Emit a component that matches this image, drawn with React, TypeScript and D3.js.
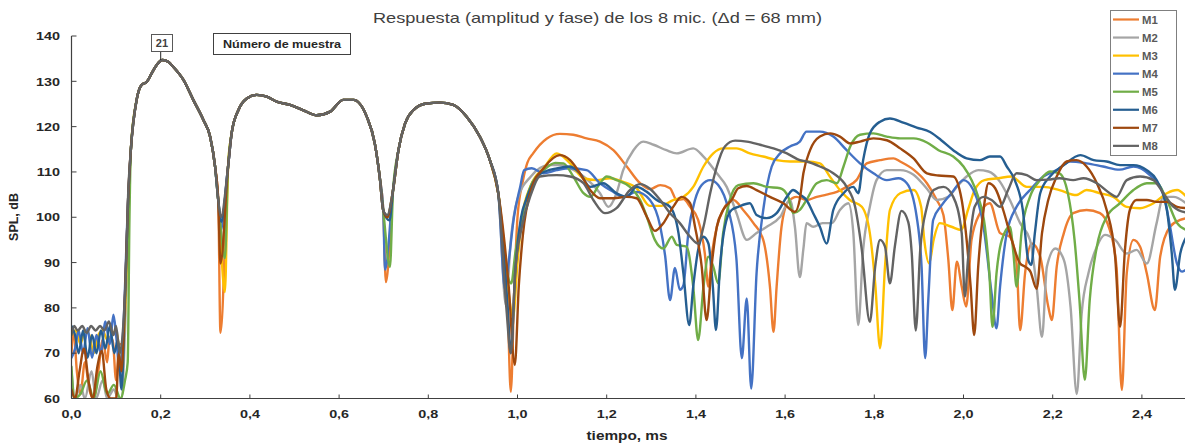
import React from 'react';
import * as d3 from 'd3';

type P = [number, number];

const seriesNames = ['M1', 'M2', 'M3', 'M4', 'M5', 'M6', 'M7', 'M8'];
const seriesColors = ['#ED7D31', '#A5A5A5', '#FFC000', '#4472C4', '#70AD47', '#255E91', '#9E480E', '#636363'];
const xTicks = [0, 0.2, 0.4, 0.6, 0.8, 1.0, 1.2, 1.4, 1.6, 1.8, 2.0, 2.2, 2.4];
const xTickLabels = ['0,0', '0,2', '0,4', '0,6', '0,8', '1,0', '1,2', '1,4', '1,6', '1,8', '2,0', '2,2', '2,4'];
const yTicks = [60, 70, 80, 90, 100, 110, 120, 130, 140];

// shared main lobes (all microphones nearly coincide)
const lobe1: P[] = [[0.133, 114.8], [0.146, 125.9], [0.157, 129.2], [0.169, 129.9], [0.18, 131.8], [0.191, 133.6], [0.204, 134.7], [0.217, 134.3], [0.228, 133.2], [0.251, 130.3], [0.273, 125.9], [0.296, 121.4], [0.311, 117.7], [0.322, 111.1], [0.329, 103.8]];
const lobe2: P[] = [[0.351, 111.1], [0.359, 118.5], [0.374, 123.6], [0.393, 126.2], [0.415, 127], [0.438, 126.6], [0.46, 125.5], [0.49, 124.8], [0.52, 123.6], [0.55, 122.5], [0.58, 123.3], [0.609, 125.9], [0.632, 125.9], [0.662, 122.2], [0.68, 116.3], [0.691, 108.9], [0.699, 101.5]];
const lobe3: P[] = [[0.721, 106], [0.733, 114.8], [0.748, 120.7], [0.766, 123.6], [0.796, 125.1], [0.826, 125.3], [0.856, 124.8], [0.886, 122.2], [0.916, 117.7], [0.938, 112.6], [0.957, 105.2]];

// per-microphone bottoms of the first two notches (M1..M8)
const dip1Points: P[] = [[0.334, 74.5], [0.335, 98], [0.344, 83.5], [0.334, 97], [0.344, 91], [0.336, 99], [0.334, 89.8], [0.335, 100]];
const dip2Points: P[] = [[0.705, 85.7], [0.708, 100], [0.708, 100], [0.703, 88.4], [0.714, 89], [0.713, 99.3], [0.708, 100], [0.708, 100.5]];

// pre-arrival noise + start of the rise
const m1Head: P[] = [[0, 70], [0.005, 75], [0.012, 66], [0.02, 61], [0.03, 68], [0.04, 62], [0.05, 60], [0.06, 66], [0.07, 73], [0.08, 68], [0.085, 73], [0.092, 73], [0.1, 64], [0.108, 72], [0.115, 72], [0.12, 82], [0.127, 104]];
const m2Head: P[] = [[0, 66], [0.008, 60], [0.02, 63], [0.03, 60], [0.045, 66], [0.055, 60], [0.07, 64], [0.08, 60], [0.095, 62], [0.105, 60], [0.112, 60], [0.12, 75], [0.127, 100]];
const m3Head: P[] = [[0, 74], [0.01, 75], [0.02, 72], [0.03, 75], [0.04, 74], [0.05, 70], [0.06, 74], [0.07, 75], [0.08, 73], [0.09, 74], [0.1, 75], [0.11, 70], [0.118, 75], [0.124, 90], [0.128, 104]];
const m4Head: P[] = [[0, 69], [0.008, 71], [0.016, 75], [0.026, 70], [0.036, 75.5], [0.046, 69], [0.056, 74], [0.066, 70], [0.076, 77], [0.086, 72], [0.094, 78.5], [0.1, 74], [0.108, 66], [0.116, 75], [0.127, 104]];
const m5Head: P[] = [[0, 67], [0.006, 60], [0.02, 61], [0.035, 64], [0.05, 60], [0.065, 66], [0.08, 61], [0.095, 63], [0.11, 60], [0.12, 64], [0.126, 68], [0.13, 100]];
const m6Head: P[] = [[0, 76], [0.008, 74], [0.016, 70], [0.026, 75], [0.036, 69], [0.046, 74], [0.056, 70], [0.066, 75], [0.076, 71], [0.086, 76], [0.096, 70], [0.104, 73], [0.112, 62], [0.12, 82], [0.127, 104]];
const m7Head: P[] = [[0, 62], [0.008, 60], [0.018, 66], [0.028, 71], [0.038, 64], [0.048, 60], [0.058, 67], [0.068, 70.5], [0.078, 62], [0.088, 60], [0.1, 60], [0.106, 70], [0.112, 66], [0.12, 83], [0.127, 104]];
const m8Head: P[] = [[0, 74], [0.006, 76], [0.014, 75], [0.024, 76], [0.034, 74.5], [0.044, 76], [0.054, 75], [0.064, 76], [0.074, 75], [0.084, 77], [0.094, 74], [0.1, 76], [0.108, 70], [0.116, 76], [0.122, 88], [0.127, 105]];

// late part (third notch and reflections)
const m1Tail: P[] = [[0.978, 80], [0.985, 61.5], [0.993, 85], [1.0, 100], [1.012, 108], [1.022, 112], [1.035, 114.1], [1.066, 117.4], [1.095, 118.4], [1.125, 118.2], [1.155, 117.4], [1.185, 116.7], [1.215, 114.8], [1.245, 111.2], [1.275, 107.5], [1.297, 106.2], [1.32, 107.1], [1.342, 106.4], [1.357, 103.8], [1.372, 104], [1.387, 102.3], [1.405, 99.4], [1.42, 92], [1.428, 84.7], [1.436, 92], [1.447, 97.9], [1.461, 101.6], [1.484, 103.8], [1.506, 101.6], [1.529, 98.7], [1.551, 95], [1.566, 84.7], [1.574, 74.7], [1.581, 84.7], [1.592, 97.9], [1.607, 103.4], [1.626, 104.5], [1.648, 103.8], [1.671, 104.5], [1.693, 105], [1.716, 105.6], [1.738, 106.7], [1.76, 108.2], [1.783, 111.9], [1.813, 112.6], [1.843, 113], [1.858, 112.3], [1.888, 110.5], [1.918, 107.5], [1.94, 103.8], [1.955, 100.5], [1.966, 90.6], [1.975, 79.5], [1.985, 90.2], [1.996, 84.7], [2.006, 80.3], [2.018, 95], [2.037, 100.9], [2.059, 103.1], [2.082, 96.5], [2.104, 95.7], [2.119, 89.8], [2.127, 75.1], [2.138, 87.6], [2.153, 94.2], [2.172, 91.3], [2.19, 80.3], [2.198, 77.3], [2.209, 89.1], [2.225, 96.5], [2.246, 100.9], [2.276, 101.6], [2.306, 100.9], [2.328, 97.2], [2.343, 89.1], [2.355, 61.9], [2.366, 87.6], [2.381, 95], [2.396, 93.5], [2.411, 87.6], [2.429, 79.5], [2.441, 91.3], [2.463, 97.9], [2.486, 99.4], [2.5, 99.8]];
const m2Tail: P[] = [[0.974, 80.6], [0.985, 95], [1.0, 104], [1.03, 109], [1.07, 111.5], [1.1, 111.5], [1.125, 110.5], [1.148, 109], [1.185, 105.3], [1.204, 102.3], [1.222, 105.3], [1.237, 110.4], [1.26, 114.8], [1.282, 116.7], [1.305, 116], [1.334, 114.8], [1.357, 114.1], [1.394, 115.2], [1.417, 113.4], [1.447, 109.7], [1.469, 106.7], [1.491, 100.9], [1.514, 95], [1.536, 96.5], [1.559, 97.9], [1.589, 100.1], [1.611, 103.8], [1.622, 97.9], [1.633, 86.8], [1.641, 93], [1.648, 98.7], [1.663, 97.9], [1.684, 98.7], [1.705, 98.7], [1.723, 101.6], [1.742, 103.1], [1.753, 96.5], [1.764, 76.2], [1.775, 92.8], [1.79, 102.3], [1.805, 108.2], [1.828, 110.4], [1.858, 110.4], [1.888, 109.4], [1.918, 106.3], [1.94, 103.8], [1.966, 104.5], [1.985, 106.7], [2.007, 109], [2.033, 110.4], [2.056, 110.1], [2.082, 107.8], [2.104, 103.8], [2.127, 98.7], [2.149, 95], [2.164, 84.7], [2.176, 73.6], [2.187, 89.1], [2.206, 93.1], [2.225, 90.6], [2.24, 80.3], [2.254, 61], [2.265, 78.8], [2.28, 87.6], [2.299, 93.5], [2.317, 96.1], [2.34, 95], [2.366, 92], [2.388, 92.8], [2.411, 89.8], [2.433, 98.7], [2.448, 104.5], [2.471, 104.5], [2.5, 103]];
const m3Tail: P[] = [[0.978, 85], [0.99, 78], [1.0, 90], [1.01, 100], [1.03, 107], [1.06, 111], [1.088, 114.1], [1.118, 111.9], [1.148, 108.6], [1.178, 108.2], [1.207, 108.6], [1.237, 107.8], [1.267, 106.4], [1.297, 102.5], [1.32, 102.5], [1.349, 103.8], [1.372, 104.5], [1.394, 106.7], [1.417, 111.2], [1.439, 114.1], [1.461, 115.2], [1.491, 115.2], [1.521, 114.1], [1.551, 113.4], [1.581, 112.6], [1.611, 112.3], [1.648, 112.3], [1.678, 111.9], [1.701, 108.9], [1.723, 106], [1.745, 103.8], [1.772, 102.3], [1.79, 96.5], [1.802, 85.4], [1.813, 71.1], [1.824, 89.1], [1.835, 101.6], [1.858, 105.3], [1.888, 106], [1.905, 102.3], [1.912, 95], [1.923, 89.8], [1.933, 95], [1.947, 98.7], [1.973, 97.9], [1.995, 97.2], [2.01, 101.6], [2.025, 106], [2.047, 108.2], [2.078, 108.6], [2.107, 109], [2.142, 106.7], [2.179, 106.7], [2.215, 106], [2.253, 104.9], [2.276, 106], [2.306, 105.3], [2.336, 104.5], [2.366, 102.3], [2.396, 102], [2.426, 103.1], [2.456, 105.3], [2.479, 106], [2.5, 104.5]];
const m4Tail: P[] = [[0.972, 84], [0.98, 90], [0.992, 100], [1.006, 106.7], [1.015, 110.4], [1.032, 110.8], [1.058, 109.7], [1.088, 110.4], [1.118, 110.8], [1.155, 110.4], [1.185, 107.5], [1.215, 105.6], [1.237, 104.5], [1.267, 105.6], [1.297, 103.8], [1.32, 98], [1.331, 91.5], [1.342, 81.7], [1.353, 88.8], [1.364, 84], [1.372, 85], [1.383, 96.5], [1.398, 103.8], [1.413, 107.1], [1.432, 108.2], [1.45, 107.1], [1.473, 101.6], [1.491, 90.6], [1.503, 68.9], [1.514, 82.1], [1.524, 62.2], [1.536, 87.6], [1.551, 101.6], [1.57, 111.2], [1.589, 114.1], [1.611, 115.6], [1.633, 116.7], [1.648, 118.9], [1.678, 118.9], [1.708, 117.8], [1.738, 114.8], [1.768, 111.9], [1.798, 109.7], [1.828, 108.2], [1.854, 108.6], [1.873, 107.5], [1.895, 100.1], [1.906, 89.1], [1.914, 68.9], [1.921, 81.7], [1.932, 99.4], [1.95, 102.5], [1.973, 105.3], [2.0, 108.2], [2.022, 106], [2.045, 97.9], [2.063, 83.2], [2.074, 75.5], [2.082, 84.7], [2.097, 96.5], [2.119, 102.3], [2.149, 106], [2.179, 109], [2.209, 110.4], [2.239, 112.3], [2.276, 111.9], [2.313, 111.2], [2.35, 110.5], [2.381, 111.2], [2.418, 109.3], [2.448, 105.3], [2.463, 98], [2.478, 90], [2.49, 88], [2.5, 88.5]];
const m5Tail: P[] = [[0.976, 88], [0.986, 85.4], [0.995, 92], [1.01, 100], [1.03, 107], [1.06, 110.5], [1.085, 112], [1.103, 111.9], [1.125, 109], [1.148, 105.3], [1.163, 104.5], [1.185, 107.5], [1.2, 109], [1.222, 108.2], [1.252, 106.7], [1.275, 103.8], [1.29, 100.1], [1.308, 95], [1.327, 93.1], [1.346, 95.7], [1.357, 93.9], [1.379, 93.5], [1.394, 84.7], [1.405, 72.9], [1.417, 84.7], [1.428, 91.3], [1.439, 89.1], [1.45, 85.4], [1.461, 96.5], [1.476, 103.8], [1.495, 107.1], [1.529, 107.5], [1.559, 106.7], [1.589, 106.4], [1.607, 104.5], [1.618, 100.9], [1.633, 101.6], [1.648, 103.8], [1.671, 107.5], [1.693, 108.2], [1.716, 107.5], [1.731, 111.2], [1.746, 115.6], [1.768, 118.2], [1.798, 118.5], [1.828, 117.8], [1.858, 117.4], [1.888, 117.4], [1.918, 116.5], [1.944, 114.8], [1.977, 113.4], [2.0, 111.2], [2.018, 108.2], [2.033, 104.5], [2.048, 97.9], [2.058, 87.6], [2.065, 75.8], [2.074, 87.6], [2.086, 95], [2.104, 97.9], [2.112, 92], [2.119, 84.7], [2.13, 96.5], [2.149, 104.5], [2.172, 108.2], [2.194, 110.1], [2.215, 109.7], [2.234, 105.3], [2.249, 95], [2.26, 81.7], [2.272, 64.1], [2.283, 81.7], [2.299, 93.5], [2.321, 100.1], [2.351, 103.1], [2.381, 106], [2.411, 107.5], [2.433, 107.5], [2.456, 103.8], [2.479, 98.7], [2.5, 97.2]];
const m6Tail: P[] = [[0.978, 80], [0.985, 70], [0.995, 88], [1.008, 100], [1.02, 104], [1.05, 109.5], [1.088, 110.8], [1.118, 111.2], [1.14, 109.7], [1.163, 106.7], [1.192, 107.5], [1.222, 105.3], [1.245, 104.5], [1.267, 106.7], [1.29, 105.6], [1.312, 103.8], [1.342, 102.3], [1.361, 96.5], [1.372, 87.6], [1.385, 76.2], [1.394, 84.7], [1.405, 92.8], [1.417, 95.7], [1.428, 94.2], [1.438, 84.7], [1.445, 75.1], [1.454, 89.1], [1.465, 97.9], [1.48, 101.6], [1.495, 102.3], [1.521, 103.1], [1.536, 100.5], [1.559, 99.8], [1.581, 100.9], [1.604, 104.5], [1.618, 106], [1.633, 105], [1.648, 103.8], [1.663, 100.9], [1.678, 97.9], [1.693, 94.2], [1.708, 101.6], [1.731, 105.3], [1.753, 106.7], [1.764, 105.3], [1.775, 112.6], [1.79, 118.5], [1.813, 121.1], [1.835, 121.8], [1.865, 120.9], [1.895, 119.8], [1.925, 118.8], [1.95, 117], [1.977, 114.8], [2.007, 113], [2.037, 112.6], [2.059, 113.4], [2.082, 113.4], [2.097, 111.2], [2.115, 108.2], [2.133, 101.6], [2.145, 90.6], [2.152, 89.5], [2.16, 96.5], [2.172, 105.3], [2.194, 109], [2.225, 111.5], [2.262, 113.7], [2.292, 112.6], [2.321, 112.3], [2.351, 111.5], [2.381, 111.5], [2.411, 110.4], [2.433, 108.2], [2.456, 101.6], [2.467, 92], [2.474, 84], [2.486, 92], [2.5, 95.7]];
const m7Tail: P[] = [[0.98, 85], [0.994, 67.4], [1.003, 85], [1.012, 96], [1.03, 106], [1.06, 111], [1.095, 113.7], [1.118, 112.6], [1.14, 109.7], [1.163, 106], [1.185, 104.2], [1.215, 104.2], [1.245, 104.5], [1.267, 104.2], [1.29, 100.1], [1.308, 97], [1.327, 98.7], [1.349, 102.3], [1.368, 104.5], [1.387, 103.1], [1.398, 97.9], [1.413, 89.1], [1.424, 77.3], [1.435, 89.1], [1.447, 97.9], [1.461, 101.6], [1.48, 103.8], [1.495, 106.4], [1.514, 106.9], [1.536, 106], [1.566, 104.5], [1.596, 103.1], [1.622, 101.2], [1.633, 104], [1.641, 109.7], [1.656, 114.8], [1.678, 117.8], [1.701, 118.5], [1.723, 117.8], [1.746, 116.3], [1.768, 116.7], [1.798, 117.4], [1.828, 117], [1.858, 115.2], [1.888, 113], [1.918, 109.7], [1.944, 109.2], [1.977, 109], [1.996, 103.8], [2.007, 95], [2.016, 84.7], [2.024, 74], [2.033, 89.1], [2.045, 101.6], [2.056, 107.5], [2.071, 106.4], [2.089, 101.6], [2.108, 95], [2.127, 89.8], [2.138, 89.1], [2.15, 88], [2.164, 84.2], [2.176, 96.5], [2.19, 103.8], [2.209, 109], [2.231, 112.3], [2.253, 112.6], [2.276, 111.2], [2.299, 107.5], [2.321, 101.6], [2.34, 91.3], [2.351, 75.8], [2.362, 92.8], [2.373, 101.6], [2.388, 103.8], [2.411, 103.8], [2.433, 103.4], [2.456, 103.4], [2.479, 102.3], [2.5, 102]];
const m8Tail: P[] = [[0.975, 80], [0.985, 70], [0.995, 88], [1.01, 98], [1.03, 105], [1.05, 109], [1.088, 109.3], [1.118, 109], [1.148, 107.5], [1.17, 103.8], [1.196, 100.9], [1.222, 102], [1.252, 106], [1.275, 107.3], [1.297, 106.3], [1.32, 103.8], [1.342, 100.9], [1.364, 98.7], [1.387, 95.7], [1.405, 94.2], [1.417, 97.9], [1.432, 105.3], [1.447, 111.2], [1.465, 115.6], [1.488, 116.9], [1.514, 116.7], [1.544, 116], [1.574, 115.2], [1.604, 114.1], [1.633, 112.6], [1.648, 112.3], [1.678, 111.2], [1.708, 109.7], [1.738, 106.7], [1.757, 102.3], [1.772, 92.8], [1.79, 76.9], [1.802, 89.1], [1.813, 95], [1.824, 93.5], [1.835, 85.4], [1.846, 93.5], [1.861, 101.4], [1.876, 99], [1.884, 92], [1.893, 75], [1.903, 92.8], [1.918, 102.3], [1.933, 106], [1.955, 106.7], [1.977, 104.5], [1.996, 96.5], [2.003, 82.5], [2.01, 90.6], [2.025, 102.3], [2.045, 104.5], [2.063, 103.8], [2.082, 102.3], [2.1, 106], [2.119, 109.7], [2.142, 109.3], [2.164, 108.2], [2.19, 108.3], [2.215, 108.6], [2.246, 108.2], [2.269, 108.6], [2.299, 107.5], [2.328, 105.3], [2.343, 104.5], [2.366, 108.2], [2.396, 109], [2.426, 108.2], [2.448, 105.3], [2.471, 102.3], [2.5, 101]];

const heads = [m1Head, m2Head, m3Head, m4Head, m5Head, m6Head, m7Head, m8Head];
const tails = [m1Tail, m2Tail, m3Tail, m4Tail, m5Tail, m6Tail, m7Tail, m8Tail];

const FONT = '"Liberation Sans", Arial, sans-serif';

function SText(props: { x: number; y: number; sx?: number; anchor?: string; size: number; weight?: string | number; fill?: string; children: React.ReactNode }) {
  const { x, y, sx = 1.22, anchor = 'start', size, weight = 'normal', fill = '#262626', children } = props;
  return (
    <text transform={`translate(${x},${y}) scale(${sx},1)`} textAnchor={anchor} fontFamily={FONT} fontSize={size} fontWeight={weight} fill={fill}>
      {children}
    </text>
  );
}

export default function App() {
  const W = 1185, H = 444;
  const x = d3.scaleLinear().domain([0, 2.5]).range([71.5, 1186.5]);
  const y = d3.scaleLinear().domain([60, 140]).range([398.5, 36]);
  const line = d3.line<P>().x(d => x(d[0])).y(d => y(d[1])).curve(d3.curveMonotoneX);

  const series = seriesNames.map((name, i) => ({
    name,
    color: seriesColors[i],
    data: [...heads[i], ...lobe1, dip1Points[i], ...lobe2, dip2Points[i], ...lobe3, ...tails[i]] as P[],
  }));

  const x0 = x(0), yBottom = y(60), yTop = y(140);
  const peakX = x(0.2), peakY = y(134.7);

  return (
    <div style={{ position: 'absolute', left: 0, top: 0 }}>
      <svg width={W} height={H} style={{ display: 'block', background: '#fff' }}>
        <defs>
          <clipPath id="plotclip">
            <rect x={x0} y={20} width={W - x0} height={yBottom - 20} />
          </clipPath>
        </defs>
        <rect x={0} y={0} width={W} height={H} fill="#fff" />

        <SText x={597.5} y={23} anchor="middle" size={14} sx={1.3} fill="#404040">
          Respuesta (amplitud y fase) de los 8 mic. (Δd = 68 mm)
        </SText>

        <g clipPath="url(#plotclip)">
          {series.map(s => (
            <path key={s.name} d={line(s.data) || ''} fill="none" stroke={s.color} strokeWidth={2.4} strokeLinejoin="round" strokeLinecap="round" />
          ))}
        </g>

        <line x1={x0} x2={x0} y1={yTop} y2={yBottom} stroke="#404040" strokeWidth={1.2} />
        <line x1={x0} x2={W} y1={yBottom} y2={yBottom} stroke="#404040" strokeWidth={1.2} />
        {yTicks.map(t => (
          <g key={t}>
            <line x1={x0} x2={x0 + 5} y1={y(t)} y2={y(t)} stroke="#404040" strokeWidth={1} />
            <SText x={60} y={y(t) + 4.2} anchor="end" size={11.5} weight="bold" sx={1.25}>{t}</SText>
          </g>
        ))}
        {xTicks.map((t, i) => (
          <g key={t}>
            <line x1={x(t)} x2={x(t)} y1={yBottom} y2={yBottom - 4} stroke="#404040" strokeWidth={1} />
            <SText x={x(t)} y={418} anchor="middle" size={11.5} weight="bold" sx={1.25}>{xTickLabels[i]}</SText>
          </g>
        ))}
        <SText x={627} y={440} anchor="middle" size={12} weight="bold" sx={1.28}>tiempo, ms</SText>
        <text transform={`translate(18,217) rotate(-90)`} textAnchor="middle" fontFamily={FONT} fontSize={12.5} fontWeight="bold" fill="#262626">SPL, dB</text>

        <line x1={peakX} x2={peakX} y1={51.5} y2={peakY} stroke="#262626" strokeWidth={1} />
        <rect x={151.5} y={34.5} width={21} height={17} fill="#fff" stroke="#595959" strokeWidth={1} />
        <SText x={162} y={47} anchor="middle" size={10.5} weight="bold" sx={1.05} fill="#404040">21</SText>
        <rect x={213.5} y={33.5} width={137} height={21} fill="#fff" stroke="#404040" strokeWidth={1} />
        <SText x={282} y={48} anchor="middle" size={10.5} weight="bold" sx={1.2}>Número de muestra</SText>

        <rect x={1110.5} y={10.5} width={66} height={145} fill="#fff" stroke="#7f7f7f" strokeWidth={1} />
        {series.map((s, i) => {
          const ly = 19.5 + i * 18.05;
          return (
            <g key={s.name}>
              <line x1={1113} x2={1139} y1={ly} y2={ly} stroke={s.color} strokeWidth={2.2} />
              <SText x={1142} y={ly + 4} size={10.5} weight="bold" sx={1.08} fill="#595959">{s.name}</SText>
            </g>
          );
        })}
      </svg>
    </div>
  );
}
